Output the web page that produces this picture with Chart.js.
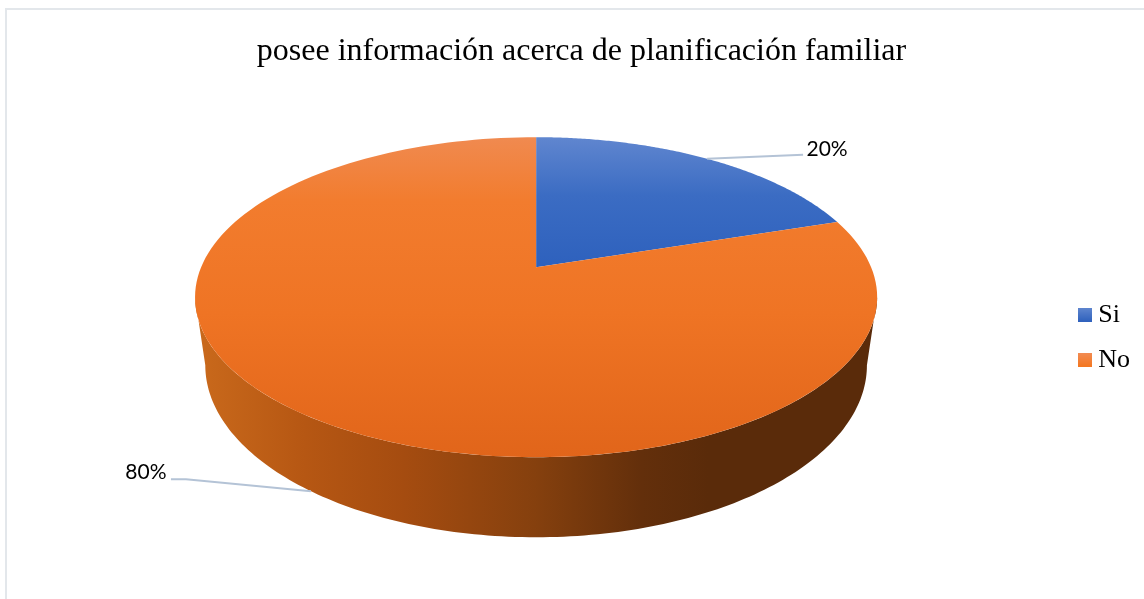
<!DOCTYPE html>
<html>
<head>
<meta charset="utf-8">
<title>planificación familiar</title>
<script src="https://cdn.jsdelivr.net/npm/chart.js@4/dist/chart.umd.min.js"></script>
<style>
  html, body { margin: 0; padding: 0; background: #fff; overflow: hidden; }
  #frame { position: absolute; left: 5px; top: 8px; width: 1150px; height: 600px; border: 2px solid #e3e7eb; }
  #myChart { position: absolute; left: 0; top: 0; }
</style>
</head>
<body>
<div id="frame"></div>
<canvas id="myChart" width="1144" height="599"></canvas>
<script>
const titleText = 'posee información acerca de planificación familiar'
const categories = ['Si', 'No']
const values = [20, 80]

const baseColors = ['#3f6fc4', '#f07623']
const faceStops = [
  [[0, '#6086cf'], [0.45, '#3b6cc3'], [1, '#2e61bd']],
  [[0, '#f08a50'], [0.2, '#f27c2e'], [0.55, '#ef7424'], [1, '#e1651a']]
]
const faceSpan = [[137, 267], [137, 457]]
const wallStops = [[0, '#c8681b'], [0.15, '#b65713'], [0.3, '#a54c10'], [0.5, '#85400e'], [0.66, '#632f0b'], [0.76, '#5a2b0a'], [1, '#5a2b0a']]
const swatchStops = [['#5f86cf', '#2e61bd'], ['#f28c54', '#f47720']]

// label text centre and elbow, relative to the leader's anchor on the pie
const leaders = [
  { elbow: [[96, -4]], text: [120, -10] },
  { elbow: [[-125, -12], [-140, -12]], text: [-165, -19] }
]

// perspective of the disc, fitted from the picture
const tilt = { k: 0.1875, sx: 335, sy: 154.4, dx: -8.5, dy: -70, drop: 65.75, shrinkX: 0.97, stretchY: 1.075 }

function project(el, angle, lower) {
  const u = Math.cos(angle)
  const v = -Math.sin(angle)
  const w = 1 + tilt.k * v
  let x = tilt.sx * u / w
  let y = -tilt.sy * v / w
  if (lower) {
    x *= tilt.shrinkX
    y = y * tilt.stretchY + tilt.drop
  }
  return { x: el.x + tilt.dx + x, y: el.y + tilt.dy + y }
}

function tracePoints(ctx, el, from, to, lower) {
  const steps = 160
  for (let i = 0; i <= steps; i++) {
    const p = project(el, from + (to - from) * i / steps, lower)
    ctx.lineTo(p.x, p.y)
  }
}

class TiltedArc extends Chart.ArcElement {
  static id = 'tiltedArc'

  draw(ctx) {
    const { startAngle, endAngle } = this
    const index = this.$context ? this.$context.dataIndex : 0
    ctx.save()

    // side wall, only the part of the slice that faces the viewer
    const edge = Math.acos(tilt.k)
    const wallFrom = Math.max(startAngle, Math.PI / 2 - edge)
    const wallTo = Math.min(endAngle, Math.PI / 2 + edge)
    if (wallTo > wallFrom) {
      const left = this.x + tilt.dx - 331
      const grad = ctx.createLinearGradient(left, 0, left + 662, 0)
      wallStops.forEach(s => grad.addColorStop(s[0], s[1]))
      ctx.beginPath()
      tracePoints(ctx, this, wallFrom, wallTo, false)
      tracePoints(ctx, this, wallTo, wallFrom, true)
      ctx.closePath()
      ctx.fillStyle = grad
      ctx.fill()
    }

    // top face
    const grad = ctx.createLinearGradient(0, faceSpan[index][0], 0, faceSpan[index][1])
    faceStops[index].forEach(s => grad.addColorStop(s[0], s[1]))
    const apex = { x: this.x + tilt.dx, y: this.y + tilt.dy }
    ctx.beginPath()
    ctx.moveTo(apex.x, apex.y)
    tracePoints(ctx, this, startAngle, endAngle, false)
    ctx.closePath()
    ctx.fillStyle = grad
    ctx.fill()
    ctx.restore()
  }
}

class TiltedPie extends Chart.PieController {
  static id = 'tiltedPie'
  static defaults = { dataElementType: 'tiltedArc', cutout: 0, radius: '100%', rotation: 0, circumference: 360 }
}

Chart.register(TiltedArc, TiltedPie)

function swatch(stops) {
  const c = document.createElement('canvas')
  c.width = 14
  c.height = 14
  const g = c.getContext('2d')
  const grad = g.createLinearGradient(0, 0, 0, 14)
  grad.addColorStop(0, stops[0])
  grad.addColorStop(1, stops[1])
  g.fillStyle = grad
  g.fillRect(0, 0, 14, 14)
  return c
}
const swatches = swatchStops.map(swatch)

const leaderLabels = {
  id: 'leaderLabels',
  afterDatasetsDraw(chart) {
    const ctx = chart.ctx
    const arcs = chart.getDatasetMeta(0).data
    const total = values.reduce((a, b) => a + b, 0)
    ctx.save()
    arcs.forEach((arc, i) => {
      const mid = (arc.startAngle + arc.endAngle) / 2
      const front = Math.sin(mid) > 0
      const a = project(arc, mid, front)
      ctx.beginPath()
      ctx.moveTo(a.x, a.y)
      leaders[i].elbow.forEach(e => ctx.lineTo(a.x + e[0], a.y + e[1]))
      ctx.strokeStyle = '#b4c3d6'
      ctx.lineWidth = 2
      ctx.stroke()
      ctx.fillStyle = '#000'
      ctx.font = '21px Lato'
      ctx.textAlign = 'center'
      ctx.textBaseline = 'middle'
      ctx.fillText(Math.round(values[i] / total * 100) + '%', a.x + leaders[i].text[0], a.y + leaders[i].text[1])
    })
    ctx.restore()
  }
}

const ctx = document.getElementById('myChart')
new Chart(ctx, {
  type: 'tiltedPie',
  data: {
    labels: categories,
    datasets: [{ data: values, backgroundColor: baseColors, borderWidth: 0 }]
  },
  options: {
    responsive: false,
    animation: false,
    layout: { padding: { left: 23, right: 4, top: 0, bottom: 15 } },
    plugins: {
      title: {
        display: true,
        text: titleText,
        color: '#000',
        font: { family: '"Liberation Serif"', size: 32, weight: 'normal' },
        padding: { top: 32, bottom: 20 }
      },
      tooltip: { enabled: false },
      legend: {
        position: 'right',
        fullSize: false,
        labels: {
          color: '#000',
          font: { family: '"Liberation Serif"', size: 26 },
          padding: 19,
          usePointStyle: true,
          pointStyleWidth: 0.01,
          boxHeight: 14,
          generateLabels: () => categories.map((name, i) => ({
            text: name,
            pointStyle: swatches[i],
            fillStyle: baseColors[i],
            lineWidth: 0,
            hidden: false,
            index: i
          }))
        }
      }
    }
  },
  plugins: [leaderLabels]
})
</script>
</body>
</html>
